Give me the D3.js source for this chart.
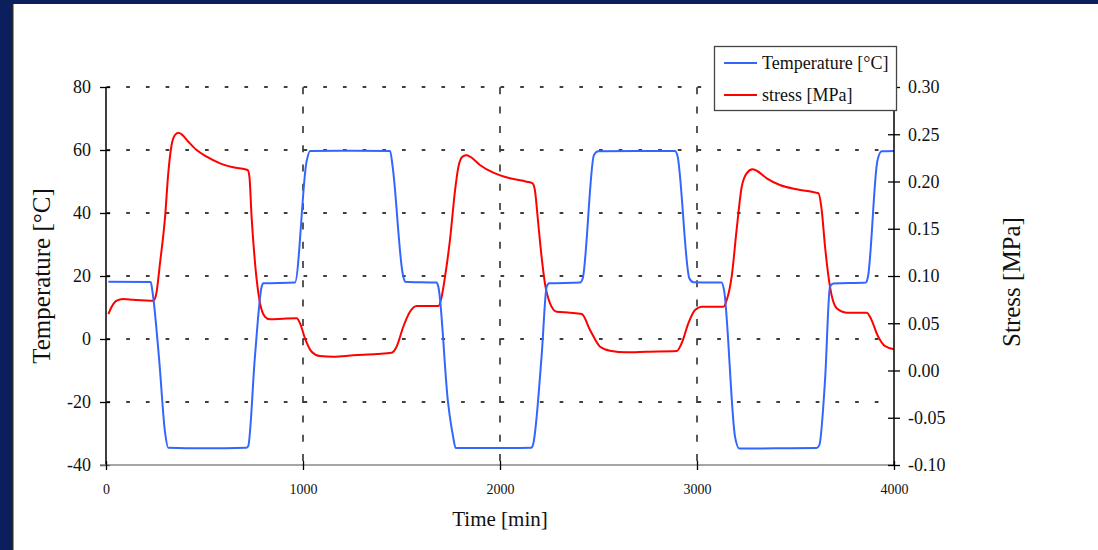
<!DOCTYPE html>
<html>
<head>
<meta charset="utf-8">
<script src="https://cdn.jsdelivr.net/npm/d3@7"></script>
<style>
html,body{margin:0;padding:0;background:#fff;}
svg{display:block;}
svg text{font-family:"Liberation Serif","Times New Roman",serif !important;}
</style>
</head>
<body>
<svg id="chart" width="1098" height="550"></svg>
<script>
// ---- data ----
const tempTime = [12,227,236,270,300,316,500,714,722,756,790,798,959,1018,1036,1250,1442,1455,1506,1518,1678,1687,1736,1762,1775,2000,2160,2168,2211,2237,2250,2406,2420,2477,2499,2700,2888,2900,2961,2982,3125,3137,3193,3215,3400,3607,3621,3650,3675,3692,3858,3868,3915,3937,4000];
const tempValue = [18.2,18.1,15,-6.7,-29.8,-34.5,-34.7,-34.5,-34,-5.6,16.6,17.7,17.9,56.3,59.7,59.8,59.7,54.7,20.8,18.2,17.9,16.6,-20,-31,-34.6,-34.6,-34.5,-33.5,-5.6,16.6,17.7,17.9,19.3,58.4,59.6,59.7,59.7,58.4,19.3,18,17.9,15.6,-31,-34.8,-34.7,-34.6,-33.7,-13,16.6,17.6,17.9,19.8,56.3,59.6,59.7];

const stressTime = [12,29,54,88,139,240,254,274,300,316,333,350,367,384,418,460,511,579,646,719,728,739,751,765,782,807,832,900,968,985,1010,1044,1086,1154,1256,1374,1450,1475,1509,1543,1577,1627,1687,1704,1721,1746,1772,1789,1810,1831,1848,1898,1966,2050,2135,2165,2177,2194,2211,2228,2254,2288,2355,2415,2457,2508,2558,2643,2744,2897,2922,2956,2990,3024,3134,3151,3176,3201,3227,3252,3282,3303,3354,3421,3506,3616,3633,3650,3675,3709,3760,3862,3878,3920,3954,4000];
const stressValue = [0.0598,0.0675,0.0739,0.0757,0.0749,0.0739,0.0799,0.1134,0.1628,0.2087,0.2386,0.2492,0.2517,0.2499,0.2421,0.2333,0.2263,0.2192,0.2150,0.2122,0.2051,0.1628,0.1275,0.0958,0.0711,0.0569,0.0542,0.0548,0.0552,0.0499,0.0341,0.0199,0.0153,0.0146,0.0161,0.0175,0.0188,0.0252,0.0463,0.0622,0.0683,0.0683,0.0683,0.0781,0.0993,0.1381,0.1910,0.2157,0.2263,0.2277,0.2263,0.2175,0.2093,0.2034,0.1998,0.1981,0.1910,0.1558,0.1204,0.0922,0.0711,0.0622,0.0612,0.0598,0.0429,0.0252,0.0210,0.0193,0.0199,0.0206,0.0288,0.0499,0.0640,0.0675,0.0675,0.0746,0.0993,0.1487,0.1945,0.2087,0.2129,0.2114,0.2034,0.1963,0.1917,0.1875,0.1698,0.1310,0.0887,0.0658,0.0612,0.0612,0.0569,0.0358,0.0259,0.0224];

const xTicks = [0,1000,2000,3000,4000];
const xTickLabels = ["0","1000","2000","3000","4000"];
const yLeftTicks = [-40,-20,0,20,40,60,80];
const yLeftTickLabels = ["-40","-20","0","20","40","60","80"];
const yRightTicks = [-0.10,-0.05,0,0.05,0.10,0.15,0.20,0.25,0.30];
const yRightTickLabels = ["-0.10","-0.05","0.00","0.05","0.10","0.15","0.20","0.25","0.30"];
const hGrid = [-20,0,20,40,60,80];
const vGrid = [1000,2000,3000];
const seriesNames = ["Temperature [°C]","stress [MPa]"];
const seriesColors = ["#3366ff","#ff0000"];

// ---- layout ----
const FONT = '"Liberation Serif","Times New Roman",serif';
const svg = d3.select("#chart");
const L = 106, R = 894, T = 87, B = 465;
const x = d3.scaleLinear().domain([0,4000]).range([L,R]);
const yL = d3.scaleLinear().domain([-40,80]).range([B,T]);
const yR = d3.scaleLinear().domain([-0.10,0.30]).range([B,T]);

// frame
svg.append("rect").attr("x",0).attr("y",0).attr("width",1098).attr("height",550).attr("fill","#fff");
svg.append("rect").attr("x",0).attr("y",0).attr("width",1098).attr("height",4).attr("fill","#0b1f5c");
svg.append("rect").attr("x",0).attr("y",0).attr("width",12).attr("height",550).attr("fill","#0b1f5c");
svg.append("rect").attr("x",12).attr("y",4).attr("width",1.5).attr("height",546).attr("fill","#2a2a2a");

// grid
const g = svg.append("g");
g.selectAll(".hg").data(hGrid).join("line")
  .attr("x1",L).attr("x2",R).attr("y1",d=>yL(d)).attr("y2",d=>yL(d))
  .attr("stroke","#000").attr("stroke-width",1.3).attr("stroke-dasharray","3.7,16").attr("stroke-dashoffset",-0.5);
g.selectAll(".vg").data(vGrid).join("line")
  .attr("x1",d=>x(d)).attr("x2",d=>x(d)).attr("y1",B).attr("y2",T)
  .attr("stroke","#000").attr("stroke-width",1.3).attr("stroke-dasharray","7,12.3").attr("stroke-dashoffset",-4);

// lines
const tempData = tempTime.map((t,i)=>[t,tempValue[i]]);
const stressData = stressTime.map((t,i)=>[t,stressValue[i]]);
svg.append("path").datum(stressData)
  .attr("d", d3.line().x(d=>x(d[0])).y(d=>yR(d[1])).curve(d3.curveMonotoneX))
  .attr("fill","none").attr("stroke",seriesColors[1]).attr("stroke-width",2);
svg.append("path").datum(tempData)
  .attr("d", d3.line().x(d=>x(d[0])).y(d=>yL(d[1])).curve(d3.curveMonotoneX))
  .attr("fill","none").attr("stroke",seriesColors[0]).attr("stroke-width",2);

// axes
const axL = svg.append("g").attr("transform",`translate(${L},0)`)
  .call(d3.axisLeft(yL).tickValues(yLeftTicks).tickFormat((d,i)=>yLeftTickLabels[i]).tickSize(6).tickPadding(9));
axL.attr("font-family",FONT).attr("font-size",18);
axL.select(".domain").attr("stroke","#000").attr("stroke-width",1.5).attr("d",`M0,${T}V${B}`);
axL.selectAll(".tick line").attr("x1",4).attr("x2",-6).attr("stroke-width",1.3);
axL.selectAll("text").attr("fill","#111");

const axB = svg.append("g").attr("transform",`translate(0,${B})`)
  .call(d3.axisBottom(x).tickValues(xTicks).tickFormat((d,i)=>xTickLabels[i]).tickSize(5).tickPadding(14));
axB.attr("font-family",FONT).attr("font-size",14);
axB.select(".domain").attr("stroke","#888").attr("stroke-width",1.5).attr("d",`M${L-6},0H${R}`);
axB.selectAll(".tick line").attr("y1",-4).attr("y2",5).attr("stroke","#000").attr("stroke-width",1.3);
axB.selectAll("text").attr("fill","#111");

const axR = svg.append("g").attr("transform",`translate(${R},0)`)
  .call(d3.axisRight(yR).tickValues(yRightTicks).tickFormat((d,i)=>yRightTickLabels[i]).tickSize(6).tickPadding(8));
axR.attr("font-family",FONT).attr("font-size",18);
axR.select(".domain").attr("stroke","#000").attr("stroke-width",1.5).attr("d",`M0,${T}V${B}`);
axR.selectAll(".tick line").attr("x1",-6).attr("x2",6).attr("stroke-width",1.3);
axR.selectAll("text").attr("fill","#111");

// axis titles
svg.append("text").attr("transform","translate(50,276) rotate(-90)").attr("font-family",FONT)
  .attr("text-anchor","middle").attr("font-size",25).attr("fill","#111").text("Temperature [°C]");
svg.append("text").attr("transform","translate(1020,282) rotate(-90)").attr("font-family",FONT)
  .attr("text-anchor","middle").attr("font-size",25).attr("fill","#111").text("Stress [MPa]");
svg.append("text").attr("x",(L+R)/2).attr("y",526).attr("font-family",FONT)
  .attr("text-anchor","middle").attr("font-size",21).attr("fill","#111").text("Time [min]");

// legend
const lg = svg.append("g").attr("font-family",FONT);
lg.append("rect").attr("x",714.5).attr("y",46.5).attr("width",182).attr("height",64)
  .attr("fill","#fff").attr("stroke","#444").attr("stroke-width",1.3);
const ly = [63,95];
seriesNames.forEach((n,i)=>{
  lg.append("line").attr("x1",724).attr("x2",757).attr("y1",ly[i]).attr("y2",ly[i])
    .attr("stroke",seriesColors[i]).attr("stroke-width",2);
  lg.append("text").attr("x",762).attr("y",ly[i]).attr("dy","0.35em")
    .attr("font-size",18).attr("fill","#111").text(n);
});
</script>
</body>
</html>
